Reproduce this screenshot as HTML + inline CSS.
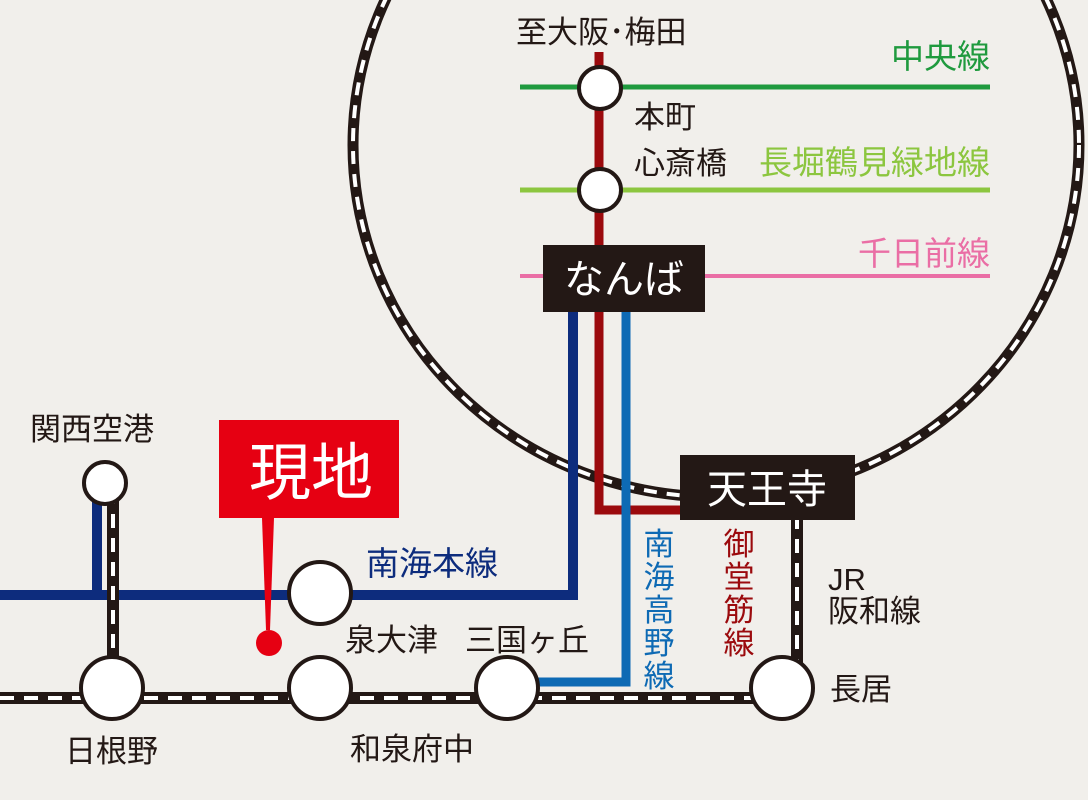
<!DOCTYPE html>
<html><head><meta charset="utf-8"><style>
html,body{margin:0;padding:0;background:#f1efeb;}
svg{display:block;}
text{font-family:"Liberation Sans","Noto Sans CJK JP",sans-serif;}
</style></head><body>
<svg width="1088" height="800" viewBox="0 0 1088 800" xmlns="http://www.w3.org/2000/svg">
<rect width="1088" height="800" fill="#f1efeb"/>
<g fill="none">
<ellipse cx="716" cy="145" rx="363" ry="352" stroke="#231815" stroke-width="11"/>
<ellipse cx="716" cy="145" rx="363" ry="352" stroke="#fff" stroke-width="4" stroke-dasharray="13 10"/>
</g>
<line x1="520" y1="87" x2="990" y2="87" stroke="#1f9a3e" stroke-width="5"/>
<line x1="520" y1="190" x2="990" y2="190" stroke="#8cc63f" stroke-width="5"/>
<line x1="520" y1="276" x2="990" y2="276" stroke="#ea6ea5" stroke-width="4"/>
<polyline points="599,52 599,510 690,510" fill="none" stroke="#9b0a0d" stroke-width="9"/>
<polyline points="626,300 626,682 535,682" fill="none" stroke="#0e6ab4" stroke-width="9"/>
<polyline points="573,300 573,595 0,595" fill="none" stroke="#0d2c7d" stroke-width="10"/>
<line x1="97" y1="485" x2="97" y2="595" stroke="#0d2c7d" stroke-width="10"/>
<g fill="none">
<line x1="0" y1="698" x2="790" y2="698" stroke="#231815" stroke-width="12"/>
<line x1="0" y1="698" x2="790" y2="698" stroke="#fff" stroke-width="4" stroke-dasharray="14 10"/>
<line x1="113" y1="490" x2="113" y2="698" stroke="#231815" stroke-width="12"/>
<line x1="113" y1="490" x2="113" y2="698" stroke="#fff" stroke-width="4" stroke-dasharray="14 10"/>
<line x1="797" y1="515" x2="797" y2="690" stroke="#231815" stroke-width="12"/>
<line x1="797" y1="515" x2="797" y2="690" stroke="#fff" stroke-width="4" stroke-dasharray="14 10"/>
</g>
<g fill="#fff" stroke="#231815" stroke-width="4">
<circle cx="600" cy="88" r="21"/>
<circle cx="600" cy="190" r="21"/>
<circle cx="105" cy="483" r="21"/>
<circle cx="112" cy="688" r="31"/>
<circle cx="320" cy="593" r="31"/>
<circle cx="320" cy="688" r="31"/>
<circle cx="507" cy="688" r="31"/>
<circle cx="782" cy="688" r="31"/>
</g>
<rect x="543" y="245" width="162" height="67" fill="#231815"/>
<text x="624" y="293" font-size="40" fill="#fff" text-anchor="middle">なんば</text>
<rect x="680" y="455" width="175" height="65" fill="#231815"/>
<text x="767" y="503" font-size="40" fill="#fff" text-anchor="middle">天王寺</text>
<rect x="219" y="420" width="180" height="98" fill="#e60012"/>
<polygon points="262,518 274,518 270,630 266,630" fill="#e60012"/>
<circle cx="269" cy="643" r="13" fill="#e60012"/>
<text x="311" y="494" font-size="62" fill="#fff" text-anchor="middle">現地</text>
<g font-size="31" fill="#231815">
<text x="516" y="43">至大阪･梅田</text>
<text x="634" y="128">本町</text>
<text x="634" y="174">心斎橋</text>
<text x="30" y="440">関西空港</text>
<text x="345" y="651">泉大津</text>
<text x="465" y="651">三国ヶ丘</text>
<text x="65" y="762">日根野</text>
<text x="350" y="760">和泉府中</text>
<text x="830" y="700">長居</text>
<text x="828" y="590">JR</text>
<text x="828" y="622">阪和線</text>
</g>
<g font-size="33">
<text x="990" y="68" fill="#1f9a3e" text-anchor="end">中央線</text>
<text x="990" y="174" fill="#8cc63f" text-anchor="end">長堀鶴見緑地線</text>
<text x="990" y="265" fill="#ea6ea5" text-anchor="end">千日前線</text>
<text x="366" y="575" fill="#0d2c7d">南海本線</text>
</g>
<g font-size="31" fill="#0e6ab4" text-anchor="middle">
<text x="659" y="555">南</text><text x="659" y="588">海</text><text x="659" y="621">高</text><text x="659" y="654">野</text><text x="659" y="687">線</text>
</g>
<g font-size="31" fill="#9b0a0d" text-anchor="middle">
<text x="739" y="555">御</text><text x="739" y="588">堂</text><text x="739" y="621">筋</text><text x="739" y="654">線</text>
</g>
</svg>
</body></html>
